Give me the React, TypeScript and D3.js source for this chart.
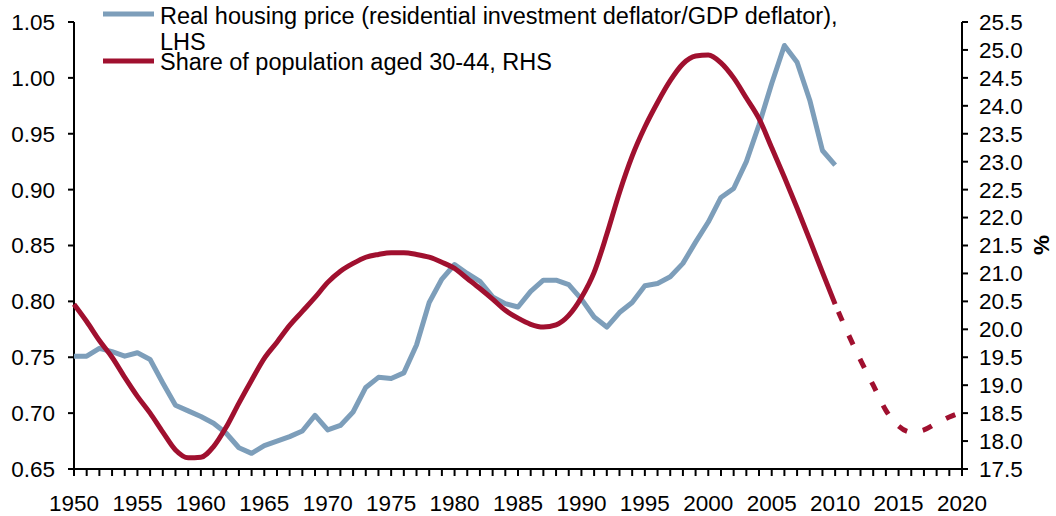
import React from "react";
import * as d3 from "d3";

const priceYears = d3.range(1950, 2011);
const priceValues = [
  0.751, 0.751, 0.758, 0.755, 0.751, 0.754, 0.748, 0.727, 0.707, 0.702,
  0.697, 0.691, 0.682, 0.669, 0.664, 0.671, 0.675, 0.679, 0.684, 0.698,
  0.685, 0.689, 0.701, 0.723, 0.732, 0.731, 0.736, 0.761, 0.799, 0.820,
  0.833, 0.825, 0.818, 0.804, 0.798, 0.795, 0.809, 0.819, 0.819, 0.815,
  0.802, 0.786, 0.777, 0.790, 0.799, 0.814, 0.816, 0.822, 0.834, 0.853,
  0.871, 0.893, 0.901, 0.925, 0.958, 0.995, 1.029, 1.014, 0.980, 0.935,
  0.922,
];

const shareYears = d3.range(1950, 2021);
const shareValues = [
  20.45, 20.14, 19.8, 19.5, 19.14, 18.8, 18.5, 18.16, 17.84, 17.7,
  17.71, 17.9, 18.25, 18.68, 19.09, 19.48, 19.77, 20.07, 20.32, 20.57,
  20.84, 21.04, 21.18, 21.29, 21.34, 21.37, 21.37, 21.34, 21.29, 21.2,
  21.09, 20.91, 20.73, 20.54, 20.34, 20.2, 20.09, 20.04, 20.08, 20.25,
  20.57, 21.02, 21.7, 22.45, 23.1, 23.62, 24.06, 24.45, 24.75, 24.89,
  24.91, 24.77, 24.5, 24.14, 23.77, 23.25, 22.72, 22.17, 21.6, 21.02,
  20.45, 19.93, 19.45, 19.0, 18.55, 18.27, 18.16, 18.2, 18.32, 18.43,
  18.52,
];
const shareProjectionStart = 2010;

const leftTicks = [0.65, 0.7, 0.75, 0.8, 0.85, 0.9, 0.95, 1.0, 1.05];
const rightTicks = d3.range(17.5, 25.51, 0.5);
const xLabelYears = d3.range(1950, 2021, 5);
const xTickYears = d3.range(1950, 2021, 1);

const legendLines = [
  "Real housing price (residential investment deflator/GDP deflator),",
  "LHS",
];
const legendShare = "Share of population aged 30-44, RHS";

const BLUE = "#7d9eba";
const RED = "#a0102f";
const FONT = "'Liberation Sans', Arial, sans-serif";

export default function App() {
  const W = 1056;
  const H = 516;
  const x0 = 74;
  const x1 = 962;
  const yTop = 22;
  const yBot = 469;

  const x = d3.scaleLinear().domain([1950, 2020]).range([x0, x1]);
  const yL = d3.scaleLinear().domain([0.65, 1.05]).range([yBot, yTop]);
  const yR = d3.scaleLinear().domain([17.5, 25.5]).range([yBot, yTop]);

  const priceLine = d3
    .line<number>()
    .x((_, i) => x(priceYears[i]))
    .y((d) => yL(d))(priceValues);

  const sharePts = shareYears.map((yr, i) => [yr, shareValues[i]] as [number, number]);
  const lineR = d3
    .line<[number, number]>()
    .x((d) => x(d[0]))
    .y((d) => yR(d[1]))
    .curve(d3.curveMonotoneX);
  const shareSolid = lineR(sharePts.filter((d) => d[0] <= shareProjectionStart));
  const shareDash = lineR(sharePts.filter((d) => d[0] >= shareProjectionStart));

  const fs = 22.5;
  const lfs = 23.5;

  return (
    <svg
      width={W}
      height={H}
      style={{ position: "absolute", left: 0, top: 0, background: "#fff" }}
      fontFamily={FONT}
    >
      <rect width={W} height={H} fill="#fff" />
      {/* axes */}
      <line x1={x0} x2={x0} y1={yTop} y2={yBot} stroke="#000" strokeWidth={2} />
      <line x1={x1} x2={x1} y1={yTop} y2={yBot} stroke="#000" strokeWidth={2} />
      <line x1={x0 - 1} x2={x1 + 1} y1={yBot} y2={yBot} stroke="#000" strokeWidth={2} />
      {leftTicks.map((t) => (
        <g key={"l" + t}>
          <line x1={x0 - 6} x2={x0} y1={yL(t)} y2={yL(t)} stroke="#000" strokeWidth={2} />
          <text x={55} y={yL(t)} dy="0.35em" textAnchor="end" fontSize={fs} fill="#000">
            {t.toFixed(2)}
          </text>
        </g>
      ))}
      {rightTicks.map((t) => (
        <g key={"r" + t}>
          <line x1={x1} x2={x1 + 6} y1={yR(t)} y2={yR(t)} stroke="#000" strokeWidth={2} />
          <text x={979} y={yR(t)} dy="0.35em" textAnchor="start" fontSize={fs} fill="#000">
            {t.toFixed(1)}
          </text>
        </g>
      ))}
      {xTickYears.map((yr) => (
        <line key={"xt" + yr} x1={x(yr)} x2={x(yr)} y1={yBot} y2={yBot + 7} stroke="#000" strokeWidth={2} />
      ))}
      {xLabelYears.map((yr) => (
        <text key={"xl" + yr} x={x(yr)} y={511} textAnchor="middle" fontSize={fs} fill="#000">
          {yr}
        </text>
      ))}
      <text
        transform={`translate(1049,245) rotate(-90)`}
        textAnchor="middle"
        fontSize={fs}
        fontWeight="bold"
        fill="#000"
      >
        %
      </text>

      {/* series */}
      <path d={priceLine ?? ""} fill="none" stroke={BLUE} strokeWidth={5} strokeLinejoin="round" />
      <path d={shareSolid ?? ""} fill="none" stroke={RED} strokeWidth={5} strokeLinejoin="round" />
      <path d={shareDash ?? ""} fill="none" stroke={RED} strokeWidth={5} strokeDasharray="10,16" strokeDashoffset={-8} />

      {/* legend */}
      <line x1={103} x2={154} y1={14} y2={14} stroke={BLUE} strokeWidth={5} />
      <text x={160} y={24} fontSize={lfs} fill="#000">
        {legendLines[0]}
      </text>
      <text x={160} y={50} fontSize={lfs} fill="#000">
        {legendLines[1]}
      </text>
      <line x1={103} x2={154} y1={61} y2={61} stroke={RED} strokeWidth={5} />
      <text x={160} y={70} fontSize={lfs} fill="#000">
        {legendShare}
      </text>
    </svg>
  );
}
